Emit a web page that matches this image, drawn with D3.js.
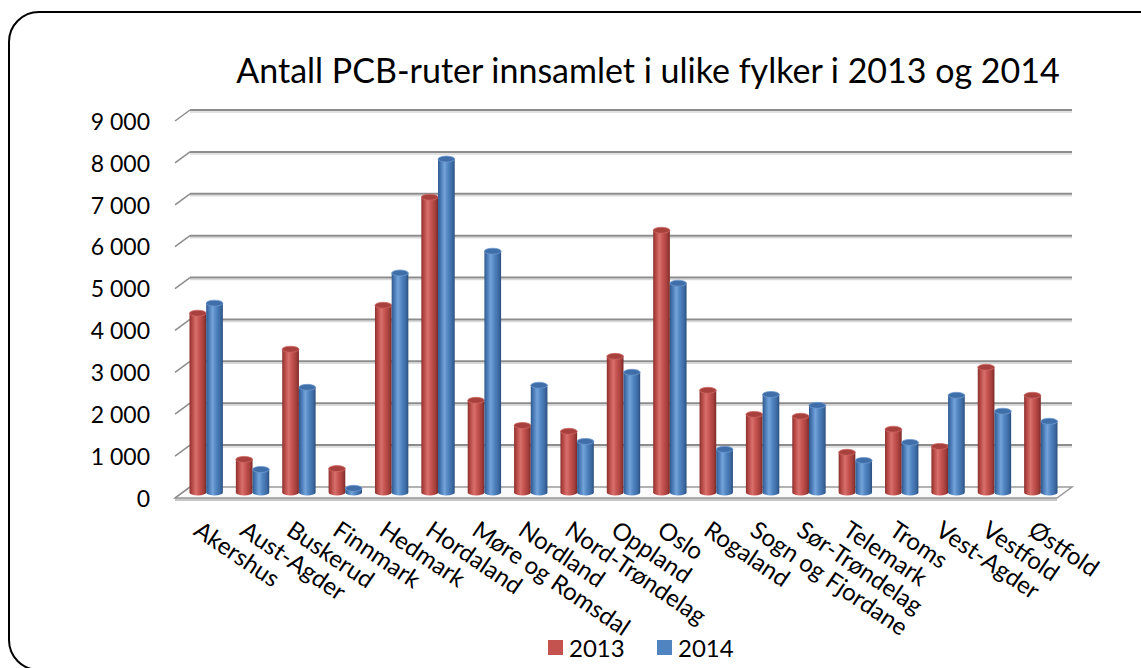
<!DOCTYPE html>
<html>
<head>
<meta charset="utf-8">
<script src="https://cdn.jsdelivr.net/npm/d3@7"></script>
<style>
  body { margin: 0; background: #fff; }
  text { font-family: Lato, "Open Sans", sans-serif; fill: #000; }
</style>
</head>
<body>
<svg id="chart" width="1141" height="668"></svg>
<script>
// fylker (categories) and values per year
const fylker = ["Akershus", "Aust-Agder", "Buskerud", "Finnmark", "Hedmark", "Hordaland",
  "Møre og Romsdal", "Nordland", "Nord-Trøndelag", "Oppland", "Oslo", "Rogaland",
  "Sogn og Fjordane", "Sør-Trøndelag", "Telemark", "Troms", "Vest-Agder", "Vestfold", "Østfold"];
const values2013 = [4280, 790, 3420, 570, 4470, 7050, 2200, 1600, 1460, 3250, 6260, 2440,
  1865, 1820, 960, 1510, 1100, 2990, 2320];
const values2014 = [4520, 550, 2510, 100, 5240, 7960, 5760, 2560, 1220, 2870, 4995, 1030,
  2340, 2080, 765, 1195, 2320, 1940, 1700];
const years = ["2013", "2014"];
const yTicks = [0, 1000, 2000, 3000, 4000, 5000, 6000, 7000, 8000, 9000];

const svg = d3.select("#chart");

// outer rounded frame
svg.append("rect")
  .attr("x", 9).attr("y", 12)
  .attr("width", 1160).attr("height", 658)
  .attr("rx", 30)
  .attr("fill", "none").attr("stroke", "#000").attr("stroke-width", 2);

// depth offset of the 3d box (back = front + depth)
const dx = 15, dy = -11;

// y scale for the back wall
const yBack = d3.scaleLinear().domain([0, 9000]).range([487, 110]);
const yMid = v => yBack(v) - dy / 2;

// x scale at mid-depth
const x = d3.scaleBand().domain(fylker).range([183, 1064]);
const front = { left: 175, right: 1057 };
const back = { left: front.left + dx, right: front.right + dx };

const defs = svg.append("defs");
const colors = {
  "2013": { stops: ["#8a302d", "#b54744", "#d8706c", "#c4524f", "#a23e3b", "#7a2927"], top: "#a8403d", rim: "#d06865" },
  "2014": { stops: ["#30598c", "#4677b3", "#74a3da", "#5084c0", "#3d6aa3", "#2b4f7e"], top: "#3f6ea8", rim: "#6f9bd0" }
};
years.forEach(y => {
  const g = defs.append("linearGradient").attr("id", "grad" + y)
    .attr("x1", "0%").attr("x2", "100%").attr("y1", "0%").attr("y2", "0%");
  const offs = [0, 0.15, 0.38, 0.6, 0.85, 1];
  colors[y].stops.forEach((c, i) => g.append("stop").attr("offset", offs[i]).attr("stop-color", c));
});

// floor
svg.append("path")
  .attr("d", `M${front.left},${yBack(0) - dy} L${front.right},${yBack(0) - dy} L${front.right},${yBack(0) - dy + 3} L${front.left},${yBack(0) - dy + 3} Z`)
  .attr("fill", "#c8c8c8");
svg.append("path")
  .attr("d", `M${front.left},${yBack(0) - dy} L${front.right},${yBack(0) - dy} L${back.right},${yBack(0)} L${back.left},${yBack(0)} Z`)
  .attr("fill", "#fbfbfb").attr("stroke", "#9a9a9a").attr("stroke-width", 1.5);

// gridlines on back wall and side
const grid = svg.append("g");
yTicks.forEach(t => {
  if (t > 0) {
    grid.append("line")
      .attr("x1", back.left).attr("x2", back.right)
      .attr("y1", yBack(t) + 2).attr("y2", yBack(t) + 2)
      .attr("stroke", "#d9d9d9").attr("stroke-width", 1.5);
    grid.append("line")
      .attr("x1", back.left).attr("x2", back.right)
      .attr("y1", yBack(t)).attr("y2", yBack(t))
      .attr("stroke", "#8c8c8c").attr("stroke-width", 2);
  }
  grid.append("line")
    .attr("x1", front.left).attr("x2", back.left)
    .attr("y1", yBack(t) - dy).attr("y2", yBack(t))
    .attr("stroke", "#8c8c8c").attr("stroke-width", 1.5);
});

// y tick labels
svg.append("g").selectAll("text")
  .data(yTicks)
  .enter().append("text")
  .attr("x", 150)
  .attr("y", d => yBack(d) - dy + 3)
  .attr("text-anchor", "end")
  .attr("dominant-baseline", "middle")
  .style("font-size", "23px")
  .text(d => d3.format(",")(d).replace(/,/g, " "));

// cylinders
const bw = x.bandwidth() * 0.36;
const ry = 3;
const rows = fylker.map((f, i) => ({ f, vals: [values2013[i], values2014[i]] }));
const bars = svg.append("g");
rows.forEach(r => {
  const cx = x(r.f) + x.bandwidth() / 2;
  years.forEach((y, j) => {
    const v = r.vals[j];
    const x0 = cx + (j - 1) * bw, x1 = x0 + bw;
    const yb = yMid(0), yt = yMid(v);
    bars.append("path")
      .attr("d", `M${x0},${yt} L${x0},${yb} A${bw / 2},${ry} 0 0 0 ${x1},${yb} L${x1},${yt} Z`)
      .attr("fill", `url(#grad${y})`);
    bars.append("ellipse")
      .attr("cx", (x0 + x1) / 2).attr("cy", yt)
      .attr("rx", bw / 2).attr("ry", ry)
      .attr("fill", colors[y].top)
      .attr("stroke", colors[y].rim).attr("stroke-width", 0.8);
  });
});

// category labels
svg.append("g").selectAll("text")
  .data(fylker)
  .enter().append("text")
  .attr("transform", d => `translate(${x(d) + x.bandwidth() / 2 - 14},${534}) rotate(34)`)
  .style("font-size", "24px")
  .text(d => d);

// title
svg.append("text")
  .attr("x", 648).attr("y", 83)
  .attr("text-anchor", "middle")
  .style("font-size", "34px")
  .text("Antall PCB-ruter innsamlet i ulike fylker i 2013 og 2014");

// legend
const legend = svg.append("g");
const legendX = [548, 657];
years.forEach((y, i) => {
  legend.append("rect")
    .attr("x", legendX[i]).attr("y", 640)
    .attr("width", 15).attr("height", 15)
    .attr("fill", colors[y].stops[3]);
  legend.append("text")
    .attr("x", legendX[i] + 21).attr("y", 657)
    .style("font-size", "24px")
    .text(y);
});
</script>
</body>
</html>
